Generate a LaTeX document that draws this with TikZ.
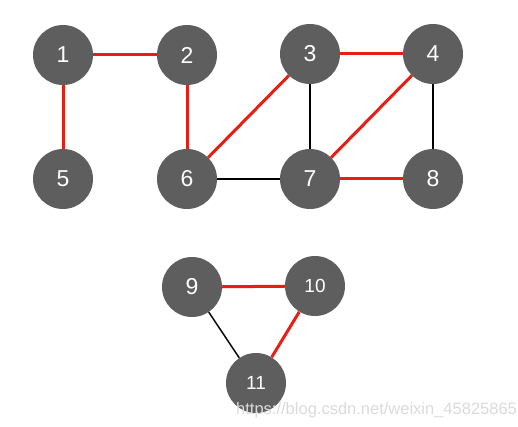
\documentclass[tikz,border=0pt]{standalone}
\usepackage{fontspec}
\setmainfont{Liberation Sans}
\definecolor{nodegray}{RGB}{94,94,94}
\definecolor{edgered}{RGB}{232,30,18}
\definecolor{markgray}{RGB}{218,218,218}
\begin{document}
\begin{tikzpicture}[x=1pt,y=-1pt,
  vertex/.style={circle,fill=nodegray,minimum size=60pt,inner sep=0pt,text=white,font=\fontsize{23}{23}\selectfont},
  smallvertex/.style={vertex,font=\fontsize{19}{19}\selectfont},
  tree/.style={edgered,line width=3pt},
  other/.style={black,line width=1.5pt}]

  \useasboundingbox (0,0) rectangle (518,427);

  % Vertices
  \node[vertex] (v1) at (63,55) {1};
  \node[vertex] (v2) at (187,55) {2};
  \node[vertex] (v3) at (310,54) {3};
  \node[vertex] (v4) at (433,54) {4};
  \node[vertex] (v5) at (63,179) {5};
  \node[vertex] (v6) at (187,179) {6};
  \node[vertex] (v7) at (310,179) {7};
  \node[vertex] (v8) at (433,179) {8};
  \node[vertex] (v9) at (192,287) {9};
  \node[smallvertex] (v10) at (315,286) {10};
  \node[smallvertex] (v11) at (256,383) {11};

  % Edges
  \foreach \a/\b in {1/2,1/5,2/6,6/3,3/4,4/7,7/8,9/10,10/11}
    \draw[tree] (v\a) -- (v\b); % red edge
  \foreach \a/\b in {3/7,6/7,4/8,9/11}
    \draw[other] (v\a) -- (v\b); % black edge

  % Watermark
  \node[anchor=base west,text=markgray,font=\fontsize{16.5}{16.5}\selectfont,inner sep=0pt] (mark) at (236,414) {https://blog.csdn.net/weixin\_45825865};
\end{tikzpicture}
\end{document}
